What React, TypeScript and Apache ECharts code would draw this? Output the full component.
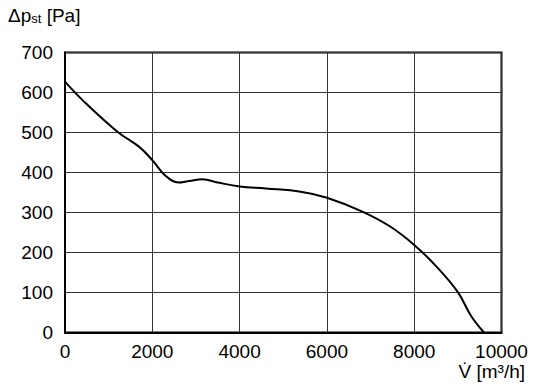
import React, { useEffect, useRef } from "react";
import * as echarts from "echarts";

const flowValues = [0, 400, 1200, 1700, 2000, 2300, 2600, 2850, 3150, 3500, 4000, 4600, 5400, 6000, 6800, 7450, 8000, 8500, 9000, 9300, 9600];
const pressureValues = [627, 581, 502, 464, 431, 392, 375, 379, 383, 375, 365, 360, 352, 337, 303, 265, 219, 166, 101, 42, 0];
const xTicks = [0, 2000, 4000, 6000, 8000, 10000];
const yTicks = [0, 100, 200, 300, 400, 500, 600, 700];

const FONT = "'Liberation Sans', Arial, sans-serif";

export default function App() {
  const ref = useRef<HTMLDivElement>(null);
  useEffect(() => {
    const chart = echarts.init(ref.current!, null, { renderer: "svg" });
    chart.setOption({
      animation: false,
      backgroundColor: "#ffffff",
      grid: {
        left: 65,
        right: 34.5,
        top: 52.5,
        bottom: 57.5,
        show: true,
        borderColor: "#000",
        borderWidth: 2,
        backgroundColor: "transparent",
      },
      xAxis: {
        type: "value",
        min: xTicks[0],
        max: xTicks[xTicks.length - 1],
        interval: 2000,
        axisLine: { show: true, lineStyle: { color: "#000", width: 2 } },
        axisTick: { show: false },
        splitLine: { show: true, lineStyle: { color: "#333", width: 1 } },
        axisLabel: { color: "#000", fontSize: 19, fontFamily: FONT, margin: 9, formatter: (v: number) => String(v) },
      },
      yAxis: {
        type: "value",
        min: yTicks[0],
        max: yTicks[yTicks.length - 1],
        interval: 100,
        axisLine: { show: true, lineStyle: { color: "#000", width: 2 } },
        axisTick: { show: false },
        splitLine: { show: true, lineStyle: { color: "#333", width: 1 } },
        axisLabel: { color: "#000", fontSize: 19, fontFamily: FONT, margin: 12, formatter: (v: number) => String(v) },
      },
      graphic: [
        {
          type: "text",
          left: 8,
          top: 6,
          style: {
            text: "{a|Δp}{b|st}{a| [Pa]}",
            rich: {
              a: { fontSize: 19, fontFamily: FONT, fill: "#000", verticalAlign: "bottom", lineHeight: 24 },
              b: { fontSize: 13, fontFamily: FONT, fill: "#000", verticalAlign: "bottom", lineHeight: 20 },
            },
          },
        },
        {
          type: "text",
          right: 11,
          top: 362,
          style: {
            text: "V\u0307 [m³/h]",
            fontSize: 19,
            fontFamily: FONT,
            fill: "#000",
          },
        },
      ],
      series: [
        {
          type: "line",
          data: flowValues.map((x, i) => [x, pressureValues[i]]),
          smooth: 0.4,
          showSymbol: false,
          lineStyle: { color: "#000", width: 2 },
          clip: false,
        },
      ],
    });
    return () => chart.dispose();
  }, []);
  return <div ref={ref} style={{ width: 536, height: 390, position: "absolute", left: 0, top: 0 }} />;
}
